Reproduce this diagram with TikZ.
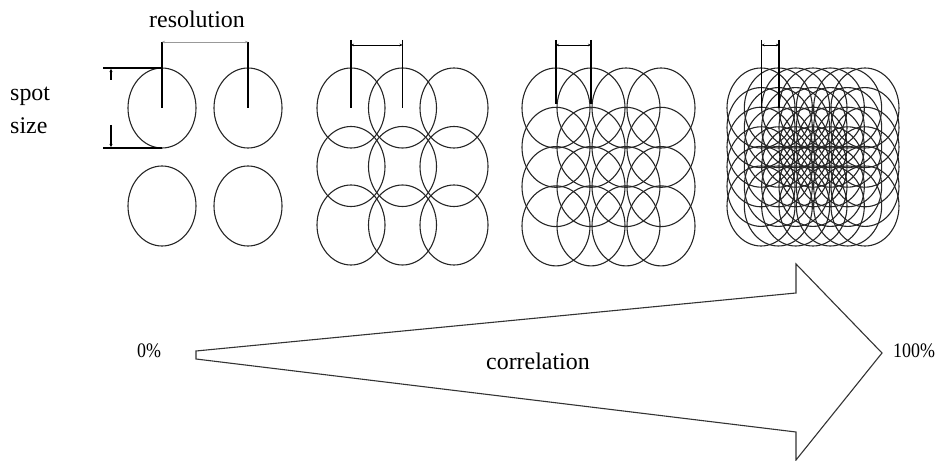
\documentclass[tikz,border=0pt]{standalone}
\usepackage{fontspec}
\setmainfont{Liberation Serif}
\usetikzlibrary{arrows.meta,positioning}

\begin{document}
\begin{tikzpicture}[x=1bp, y=-1bp,
  spot/.style={draw=black!85, line width=1.1bp},
  dim/.style={line width=1.3bp},
  span/.style={{Stealth[length=3bp,width=2.5bp]}-{Stealth[length=3bp,width=2.5bp]}, line width=0.8bp},
  bigtext/.style={inner sep=0pt, font=\fontsize{24}{28}\selectfont},
  pct/.style={inner sep=0pt, font=\fontsize{18}{20}\selectfont, yscale=1.15}
]
\useasboundingbox (0,0) rectangle (937,461);

% spot grids, tighter from left to right
\foreach \x in {162,248}
  \foreach \y in {108,206}
    \draw[spot] (\x,\y) ellipse [x radius=34bp, y radius=40bp];
\foreach \i in {0,...,2}
  \foreach \j in {0,...,2}
    \draw[spot] (351+51.5*\i,108+58.5*\j) ellipse [x radius=34bp, y radius=40bp];
\foreach \i in {0,...,3}
  \foreach \j in {0,...,3}
    \draw[spot] (556+35*\i,108+39.3*\j) ellipse [x radius=34bp, y radius=40bp];
\foreach \i in {0,...,6}
  \foreach \j in {0,...,5}
    \draw[spot] (761+17.33*\i,108+19.6*\j) ellipse [x radius=34bp, y radius=40bp];

% resolution brackets
\coordinate (r1a) at (162,42);  \coordinate (c1a) at (162,108);
\coordinate (r1b) at (248,42);  \coordinate (c1b) at (248,108);
\draw[dim] (r1a) -- (c1a);
\draw[dim] (r1b) -- (c1b);
\draw[span, line width=0.4bp, draw=black!40] (r1a) -- (r1b);

\coordinate (r2a) at (351,40);  \coordinate (c2a) at (351,108);
\coordinate (r2b) at (402.5,40);  \coordinate (c2b) at (402.5,108);
\draw[dim] (r2a) -- (c2a);
\draw[dim] (r2b) -- (c2b);
\draw[span] ([yshift=-5bp]r2a) -- ([yshift=-5bp]r2b);

\coordinate (r3a) at (556,40);  \coordinate (c3a) at (556,104);
\coordinate (r3b) at (591,40);  \coordinate (c3b) at (591,104);
\draw[dim] (r3a) -- (c3a);
\draw[dim] (r3b) -- (c3b);
\draw[span] ([yshift=-5bp]r3a) -- ([yshift=-5bp]r3b);

\coordinate (r4a) at (761.5,40);  \coordinate (c4a) at (761.5,108);
\coordinate (r4b) at (779,40);  \coordinate (c4b) at (779,108);
\draw[dim] (r4a) -- (c4a);
\draw[dim] (r4b) -- (c4b);
\draw[span] ([yshift=-5bp]r4a) -- ([yshift=-5bp]r4b);

% spot size
\coordinate (st) at (103,68);  \coordinate (stc) at (162,68);
\coordinate (sb) at (103,148); \coordinate (sbc) at (162,148);
\draw[dim] (st) -- (stc);
\draw[dim] (sb) -- (sbc);
\draw[line width=1.1bp, -{Stealth[length=3bp,width=3bp]}] (111,80) -- (111,69);
\draw[line width=1.1bp, -{Stealth[length=3bp,width=3bp]}] (111,125) -- (111,147);

% correlation arrow
\draw[line width=1.1bp, draw=black!80, line join=miter]
  (196,351) -- (796,293) -- (796,264) -- (882,353) -- (796,460) -- (796,432) -- (196,359) -- cycle;

% labels
\node[bigtext, anchor=base] (res) at (197,28) {resolution};
\node[bigtext, anchor=base west] (spot) at (10,101) {spot};
\node[bigtext, anchor=base west] (size) at ([yshift=-33bp]spot.base west) {size};
\node[bigtext, anchor=base west] (corr) at (486,370) {correlation};
\node[pct, anchor=base west] (low) at (137,358) {0\%};
\node[pct, anchor=base west] (high) at (893,358) {100\%};
\end{tikzpicture}
\end{document}
